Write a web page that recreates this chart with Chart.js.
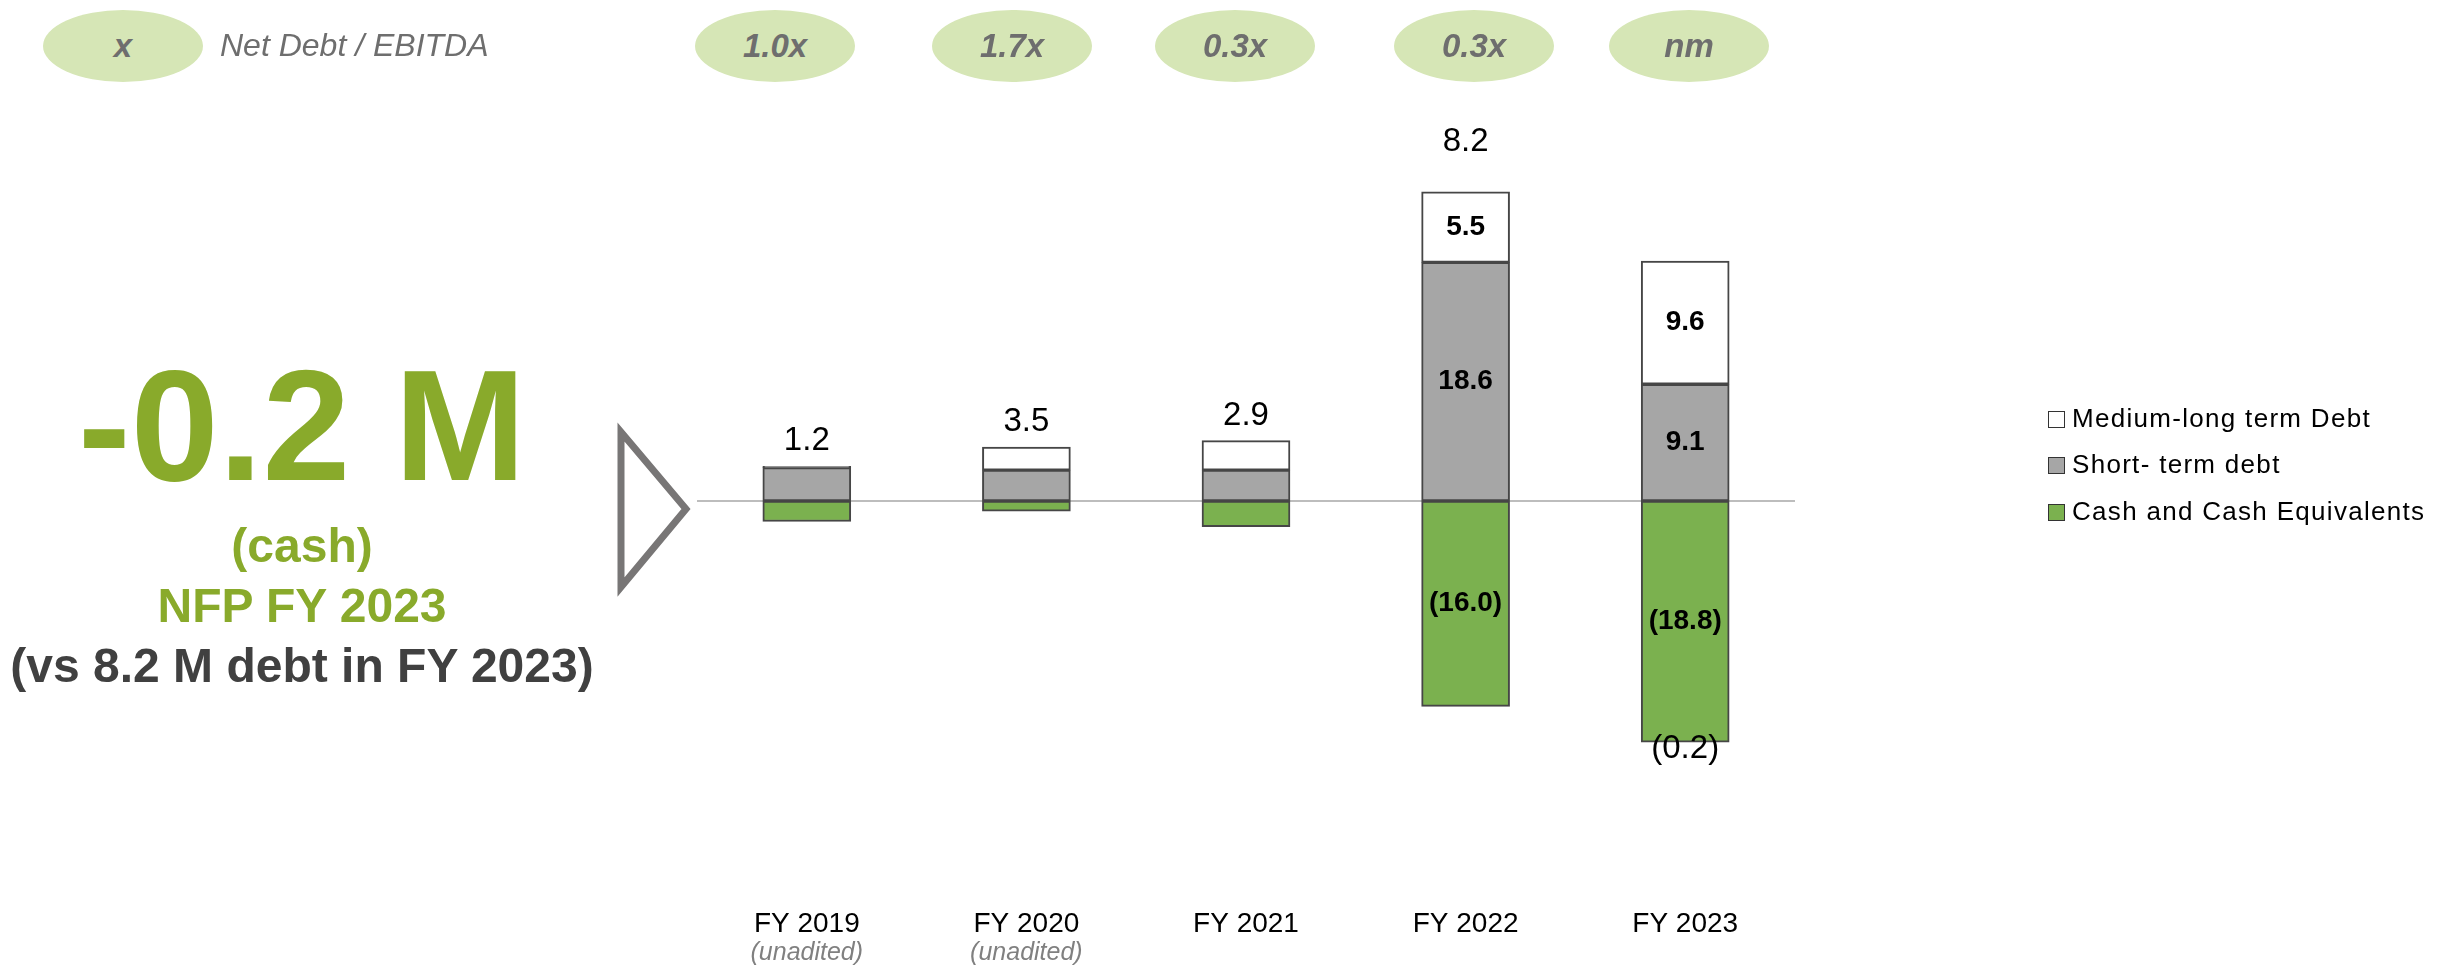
<!DOCTYPE html>
<html>
<head>
<meta charset="utf-8">
<script src="https://cdn.jsdelivr.net/npm/chart.js@4.4.1/dist/chart.umd.min.js"></script>
<style>
    body { margin: 0; background: #fff; font-family: 'Liberation Sans', Arial, sans-serif; }
    #wrap { position: relative; width: 2445px; height: 967px; overflow: hidden; }
    #nfp-chart { position: absolute; left: 0; top: 0; }
    .pill {
        position: absolute; top: 10px; width: 160px; height: 72px; border-radius: 50%;
        background: #d6e6b6; color: #6e6e6e; font-weight: bold; font-style: italic;
        font-size: 33px; display: flex; align-items: center; justify-content: center;
    }
    .pill-caption { position: absolute; left: 220px; top: 27px; font-size: 32px; font-style: italic; color: #6e6e6e; }
    .side-line { position: absolute; left: 0; width: 604px; text-align: center; font-weight: bold; white-space: nowrap; }
    .legend { position: absolute; left: 2048px; font-size: 26px; letter-spacing: 1.3px; color: #000; white-space: nowrap; }
    .legend span.box {
        display: inline-block; width: 15px; height: 15px; border: 1.5px solid #333;
        margin-right: 7px; vertical-align: -1px;
    }
</style>
</head>
<body>
<div id="wrap">
    <canvas id="nfp-chart" width="2445" height="967"></canvas>

    <div class="pill" style="left:43px;">x</div>
    <div class="pill-caption">Net Debt / EBITDA</div>

    <svg width="2445" height="967" style="position:absolute;left:0;top:0;pointer-events:none">
        <polygon points="621,432 686,509 621,587" fill="none" stroke="#787676" stroke-width="7" stroke-linejoin="miter"/>
    </svg>

    <div class="side-line" style="top:346px;font-size:158px;line-height:158px;color:#89aa2b;">-0.2 M</div>
    <div class="side-line" style="top:522px;font-size:48px;line-height:48px;color:#89aa2b;">(cash)</div>
    <div class="side-line" style="top:582px;font-size:48px;line-height:48px;color:#89aa2b;">NFP FY 2023</div>
    <div class="side-line" style="top:642px;font-size:48px;line-height:48px;color:#404040;">(vs 8.2 M debt in FY 2023)</div>
</div>

<script>
// 1. Data (EUR M)
const categories = ['FY 2019', 'FY 2020', 'FY 2021', 'FY 2022', 'FY 2023'];
const subLabels = ['(unadited)', '(unadited)', '', '', ''];
const shortTermDebt = [2.6, 2.4, 2.4, 18.6, 9.1];
const mediumLongDebt = [0.1, 1.8, 2.3, 5.5, 9.6];
const cashEquivalents = [-1.6, -0.8, -2.0, -16.0, -18.8];
const netDebt = [1.2, 3.5, 2.9, 8.2, -0.2];
const netDebtEbitda = ['1.0x', '1.7x', '0.3x', '0.3x', 'nm'];

// pill positions along the top row (layout only)
const pillLeft = [695, 932, 1155, 1394, 1609];

const legendItems = [
    { text: 'Medium-long term Debt', color: '#ffffff' },
    { text: 'Short- term debt', color: '#a6a6a6' },
    { text: 'Cash and Cash Equivalents', color: '#7bb14f' }
];

const FONT = "'Liberation Sans', Arial, sans-serif";

// 2. Top pills and legend
const wrap = document.getElementById('wrap');
netDebtEbitda.forEach((txt, i) => {
    const d = document.createElement('div');
    d.className = 'pill';
    d.style.left = pillLeft[i] + 'px';
    d.innerText = txt;
    wrap.appendChild(d);
});

const legendTops = [403, 449, 496];
legendItems.forEach((item, i) => {
    const d = document.createElement('div');
    d.className = 'legend';
    d.style.top = legendTops[i] + 'px';
    d.innerHTML = '<span class="box" style="background:' + item.color + '"></span>' + item.text;
    wrap.appendChild(d);
});

function fmt(v) {
    return v < 0 ? '(' + Math.abs(v).toFixed(1) + ')' : v.toFixed(1);
}

// 3. Plugin: zero line, value labels, category labels
const annotatePlugin = {
    id: 'annotate',
    beforeDatasetsDraw(chart) {
        const { ctx, chartArea, scales } = chart;
        const y0 = scales.y.getPixelForValue(0);
        ctx.save();
        ctx.strokeStyle = '#bdbdbd';
        ctx.lineWidth = 2;
        ctx.beginPath();
        ctx.moveTo(chartArea.left, y0);
        ctx.lineTo(chartArea.right, y0);
        ctx.stroke();
        ctx.restore();
    },
    afterDatasetsDraw(chart) {
        const { ctx, chartArea, scales } = chart;
        ctx.save();
        ctx.textAlign = 'center';
        ctx.textBaseline = 'middle';
        ctx.fillStyle = '#000';

        // segment labels (only big segments carry a number)
        ctx.font = 'bold 28px ' + FONT;
        chart.data.datasets.forEach((ds, di) => {
            const meta = chart.getDatasetMeta(di);
            meta.data.forEach((bar, i) => {
                const v = ds.data[i];
                if (Math.abs(v) < 4) return;
                ctx.fillText(fmt(v), bar.x, (bar.y + bar.base) / 2);
            });
        });

        // net debt totals
        ctx.font = '33px ' + FONT;
        categories.forEach((c, i) => {
            const x = scales.x.getPixelForValue(i);
            const v = netDebt[i];
            if (v >= 0) {
                const top = scales.y.getPixelForValue(shortTermDebt[i] + mediumLongDebt[i]);
                // the tallest bar has its total set a bit higher on the slide
                const gap = top < 250 ? 50 : 25;
                ctx.fillText(fmt(v), x, top - gap);
            } else {
                const bottom = scales.y.getPixelForValue(cashEquivalents[i]);
                ctx.fillText(fmt(v), x, bottom + 7);
            }
        });

        // category labels under the plot
        ctx.textBaseline = 'alphabetic';
        categories.forEach((c, i) => {
            const x = scales.x.getPixelForValue(i);
            ctx.font = '28px ' + FONT;
            ctx.fillStyle = '#000';
            ctx.fillText(c, x, chartArea.bottom + 46);
            if (subLabels[i]) {
                ctx.font = 'italic 25px ' + FONT;
                ctx.fillStyle = '#808080';
                ctx.fillText(subLabels[i], x, chartArea.bottom + 74);
            }
        });
        ctx.restore();
    }
};

// 4. Chart
const ctx = document.getElementById('nfp-chart').getContext('2d');
const nfpChart = new Chart(ctx, {
    type: 'bar',
    data: {
        labels: categories,
        datasets: [
            {
                label: 'Short- term debt',
                data: shortTermDebt,
                backgroundColor: '#a6a6a6'
            },
            {
                label: 'Medium-long term Debt',
                data: mediumLongDebt,
                backgroundColor: '#ffffff'
            },
            {
                label: 'Cash and Cash Equivalents',
                data: cashEquivalents,
                backgroundColor: '#7bb14f'
            }
        ]
    },
    options: {
        responsive: false,
        animation: false,
        layout: {
            padding: { left: 697, right: 650, top: 116, bottom: 81 }
        },
        datasets: {
            bar: {
                barThickness: 88,
                borderColor: '#464646',
                borderWidth: 2,
                borderSkipped: false
            }
        },
        scales: {
            x: { stacked: true, display: false },
            y: { stacked: true, display: false, min: -30, max: 30 }
        },
        plugins: {
            legend: { display: false },
            tooltip: { enabled: false }
        }
    },
    plugins: [annotatePlugin]
});
</script>
</body>
</html>
